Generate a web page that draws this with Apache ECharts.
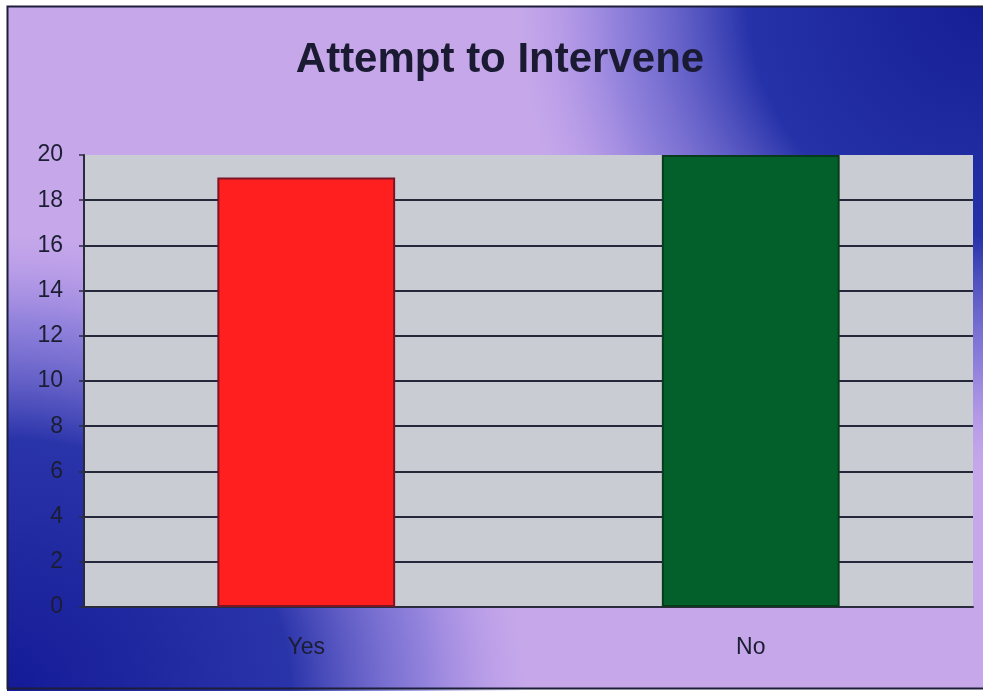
<!DOCTYPE html>
<html>
<head>
<meta charset="utf-8">
<style>
  html, body { margin: 0; padding: 0; background: #ffffff; }
  #chart { width: 983px; height: 691px; }
</style>
<script src="https://cdn.jsdelivr.net/npm/echarts@6/dist/echarts.min.js"></script>
</head>
<body>
<div id="chart"></div>
<script>
// Survey answers: did the respondent attempt to intervene?
const categories = ['Yes', 'No'];
const counts = [19, 20];
const barColors = ['#ff1f1f', '#04602a'];
const barBorders = ['#7a1526', '#0a3a1c'];

const yMin = 0;
const yMax = 20;
const yStep = 2;

const chart = echarts.init(document.getElementById('chart'));

const W = 983, H = 691;
const lavender = '#c6a8ea';
const font = 'Liberation Sans, Arial, sans-serif';

chart.setOption({
  animation: false,
  backgroundColor: '#ffffff',
  graphic: [
    // slide backdrop: lavender wash with blue corners
    {
      type: 'rect', z: -30, silent: true,
      shape: { x: 7, y: 6, width: W - 7, height: H - 9 },
      style: { fill: lavender }
    },
    {
      type: 'circle', z: -29, silent: true,
      shape: { cx: W, cy: 0, r: 470 },
      style: {
        fill: {
          type: 'radial', x: 0.5, y: 0.5, r: 0.5,
          colorStops: [
            { offset: 0, color: 'rgba(22,30,148,1)' },
            { offset: 0.5, color: 'rgba(32,46,166,0.97)' },
            { offset: 0.78, color: 'rgba(90,90,205,0.5)' },
            { offset: 1, color: 'rgba(160,130,232,0)' }
          ]
        }
      }
    },
    {
      type: 'circle', z: -29, silent: true,
      shape: { cx: 0, cy: H, r: 460 },
      scaleX: 1.15,
      style: {
        fill: {
          type: 'radial', x: 0.5, y: 0.5, r: 0.5,
          colorStops: [
            { offset: 0, color: 'rgba(20,26,150,1)' },
            { offset: 0.55, color: 'rgba(34,46,166,0.95)' },
            { offset: 0.8, color: 'rgba(90,90,205,0.5)' },
            { offset: 1, color: 'rgba(160,130,232,0)' }
          ]
        }
      }
    },
    // white page margin and dark frame
    {
      type: 'rect', z: -20, silent: true,
      shape: { x: 0, y: 0, width: 7, height: H },
      style: { fill: '#ffffff' }
    },
    {
      type: 'rect', z: -20, silent: true,
      shape: { x: 0, y: 0, width: W, height: 6 },
      style: { fill: '#ffffff' }
    },
    {
      type: 'rect', z: -19, silent: true,
      shape: { x: 7.5, y: 6.5, width: W, height: H - 9 },
      style: { fill: null, stroke: '#1d1f3a', lineWidth: 2 }
    },
    // chart title
    {
      type: 'text', z: 10, silent: true,
      x: 500, y: 60,
      style: {
        text: 'Attempt to Intervene',
        fontFamily: font,
        fontWeight: 'bold',
        fontSize: 42,
        fill: '#1b1a33',
        align: 'center',
        verticalAlign: 'middle'
      }
    }
  ],
  grid: {
    left: 84,
    right: 10,
    top: 155,
    bottom: 84,
    show: true,
    backgroundColor: '#c9ccd2',
    borderWidth: 0
  },
  xAxis: {
    type: 'category',
    data: categories,
    axisLine: { show: true, lineStyle: { color: '#2a2c3e', width: 2 } },
    axisTick: { show: false },
    axisLabel: {
      margin: 29,
      fontFamily: font,
      fontSize: 23,
      color: '#1b1d33'
    }
  },
  yAxis: {
    type: 'value',
    min: yMin,
    max: yMax,
    interval: yStep,
    axisLine: { show: true, lineStyle: { color: '#2a2c3e', width: 2 } },
    axisTick: { show: true, length: 5, lineStyle: { color: '#2a2c3e', width: 1.5 } },
    axisLabel: {
      margin: 21,
      fontFamily: font,
      fontSize: 23,
      color: '#1b1d33'
    },
    splitLine: {
      show: true,
      showMaxLine: false,
      lineStyle: { color: '#25283a', width: 2 }
    }
  },
  series: [{
    type: 'bar',
    barWidth: '40%',
    data: counts.map((v, i) => ({
      value: v,
      itemStyle: { color: barColors[i], borderColor: barBorders[i], borderWidth: 2 }
    }))
  }]
});
</script>
</body>
</html>
